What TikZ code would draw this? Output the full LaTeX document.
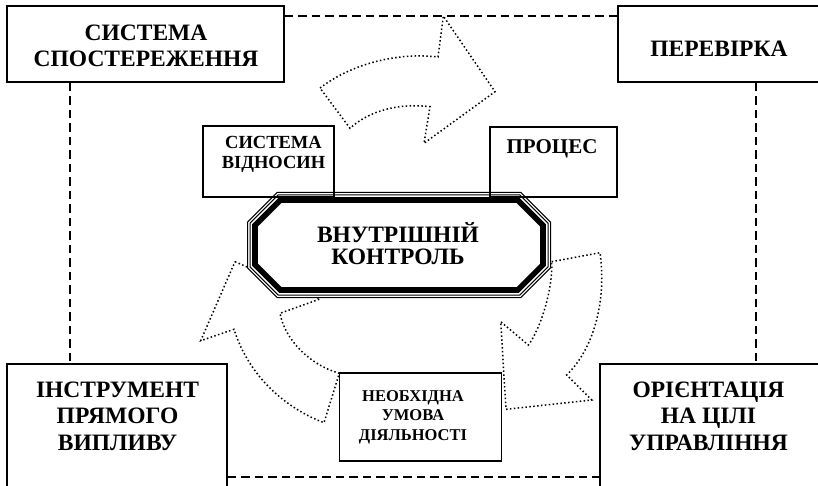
\documentclass[tikz,border=0pt]{standalone}
\usepackage{fontspec}
\setmainfont{Liberation Serif}
\begin{document}
\begin{tikzpicture}[x=1pt,y=-1pt,
  box/.style={draw,line width=1.6pt,inner sep=0pt},
  conn/.style={line width=1.2pt,dash pattern=on 8.5pt off 5pt},
  flow/.style={line width=1.5pt,dash pattern=on 1.5pt off 2.4pt,line join=miter},
  lbl/.style={align=center,inner sep=0pt},
  fbig/.style={font=\bfseries\fontsize{23.5}{26.8}\selectfont},
  fctrl/.style={font=\bfseries\fontsize{23.5}{21.7}\selectfont},
  frel/.style={font=\bfseries\fontsize{18.5}{20}\selectfont},
  fproc/.style={font=\bfseries\fontsize{21}{20}\selectfont},
  fcond/.style={font=\bfseries\fontsize{16.5}{19.7}\selectfont}]
\useasboundingbox (0,0) rectangle (818,486);
\clip (0,0) rectangle (818,486);

% outer boxes
\node[box,minimum width=277pt,minimum height=76pt] (obs) at (145.5,44) {};
\node[box,minimum width=204pt,minimum height=76pt] (check) at (720,44) {};
\node[box,minimum width=220pt,minimum height=136pt] (tool) at (117,432) {};
\node[box,minimum width=222pt,minimum height=136pt] (goal) at (711,432) {};

% dashed connectors
\draw[conn] (obs.east |- 0,16) -- (check.west |- 0,16);
\draw[conn] (obs.south -| 70,0) -- (tool.north -| 70,0);
\draw[conn] (check.south -| 756,0) -- (goal.north -| 756,0);
\draw[conn] (tool.east |- 0,477) -- (goal.west |- 0,477);

% dotted curved arrows
\draw[flow] (320,88) .. controls (350,65) and (395,52) .. (438,57)
  -- (443.3,16) -- (495,91.7) -- (424,143.3) -- (430,106.7)
  .. controls (400,103) and (370,110) .. (350,128.3) -- cycle;
\draw[flow] (551.7,261.7) -- (600,252.7)
  .. controls (606,295) and (597,345) .. (566.7,375)
  -- (591.7,400) -- (506,409.3) -- (500.7,321.7) -- (528.3,345)
  .. controls (540,330) and (553,290) .. (551.7,261.7) -- cycle;
\draw[flow] (235,261.7) -- (320,299) -- (280,313.3)
  .. controls (285,340) and (310,365) .. (339.3,373.3)
  -- (324,422.7) .. controls (290,410) and (250,380) .. (234,329.3)
  -- (200.7,340.7) -- cycle;

% octagon
\fill[white] (247,222) -- (277,192) -- (521,192) -- (551,222) -- (551,268) -- (521,298) -- (277,298) -- (247,268) -- cycle;
\draw[line width=1pt] (247.5,222.2) -- (277.2,192.5) -- (520.8,192.5) -- (550.5,222.2) -- (550.5,267.8) -- (520.8,297.5) -- (277.2,297.5) -- (247.5,267.8) -- cycle;
\draw[line width=1pt] (250,223.2) -- (278.2,195) -- (519.8,195) -- (548,223.2) -- (548,266.8) -- (519.8,295) -- (278.2,295) -- (250,266.8) -- cycle;
\draw[line width=5.6pt] (255,225.3) -- (280.3,200) -- (517.7,200) -- (543,225.3) -- (543,264.7) -- (517.7,290) -- (280.3,290) -- (255,264.7) -- cycle;
\node[lbl,fctrl] (ctrl) at (398,243.3) {ВНУТРІШНІЙ\\КОНТРОЛЬ};

% inner boxes
\node[box,minimum width=131pt,minimum height=71pt] (rel) at (268.5,161.5) {};
\node[box,minimum width=127pt,minimum height=70pt] (proc) at (553.5,162) {};
\node[box,minimum width=162pt,minimum height=88pt] (cond) at (420.5,416.7) {};

% texts
\node[lbl,fbig] (obsT) at (146,45.8) {СИСТЕМА\\СПОСТЕРЕЖЕННЯ};
\node[lbl,fbig] (checkT) at (719,48.5) {ПЕРЕВІРКА};
\node[lbl,fbig] (toolT) at (117.5,416.2) {ІНСТРУМЕНТ\\ПРЯМОГО\\ВИПЛИВУ};
\node[lbl,fbig] (goalT) at (708.5,416.2) {ОРІЄНТАЦІЯ\\НА ЦІЛІ\\УПРАВЛІННЯ};
\node[lbl,frel] (relT) at (273.5,154) {СИСТЕМА\\ВІДНОСИН};
\node[lbl,fproc] (procT) at (552,148.3) {ПРОЦЕС};
\node[lbl,fcond] (condT) at (413,417.2) {НЕОБХІДНА\\УМОВА\\ДІЯЛЬНОСТІ};
\end{tikzpicture}
\end{document}
